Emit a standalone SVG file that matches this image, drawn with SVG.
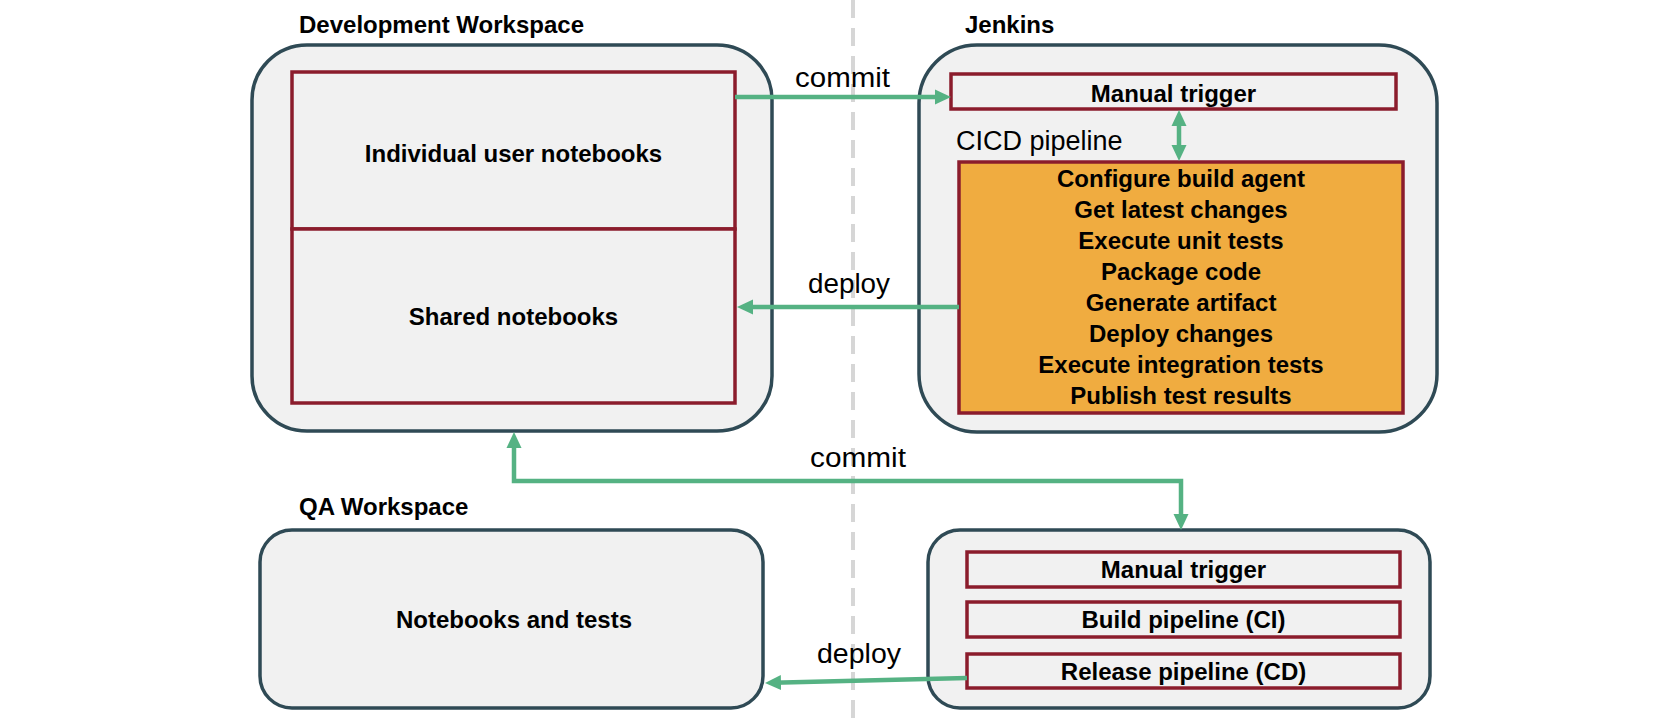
<svg xmlns="http://www.w3.org/2000/svg" width="1680" height="719" viewBox="0 0 1680 719">
<style>
.outer{fill:#f1f1f1;stroke:#2f4a55;stroke-width:3.5}
.inner{fill:#f1f1f1;stroke:#8b1c2c;stroke-width:3.5}
.orange{fill:#f0ac40;stroke:#8b1c2c;stroke-width:3.5}
.title{font-family:"Liberation Sans",Arial,sans-serif;font-weight:bold;font-size:24px;fill:#000}
.bold{font-family:"Liberation Sans",Arial,sans-serif;font-weight:bold;font-size:24px;fill:#000;text-anchor:middle}
.lbl{font-family:"Liberation Sans",Arial,sans-serif;font-size:27px;fill:#000}
.conn{fill:none;stroke:#55b283;stroke-width:4.5}
</style>
<defs>
<marker id="ah" markerUnits="userSpaceOnUse" markerWidth="16" markerHeight="16" viewBox="0 0 16 16" refX="8" refY="8" orient="auto-start-reverse">
<path d="M0,0.5 L16,8 L0,15.5 Z" fill="#55b283"/>
</marker>
</defs>
<line x1="853" y1="0" x2="853" y2="719" stroke="#d6d6d6" stroke-width="4" stroke-dasharray="18 10"/>

<g id="dev-workspace">
<text class="title" x="299" y="33">Development Workspace</text>
<rect class="outer" x="252" y="45" width="520" height="386" rx="55" ry="55"/>
</g>
<g id="individual-notebooks">
<rect class="inner" x="292" y="72" width="443" height="157"/>
<text class="bold" x="513.5" y="162">Individual user notebooks</text>
</g>
<g id="shared-notebooks">
<rect class="inner" x="292" y="229" width="443" height="174"/>
<text class="bold" x="513.5" y="325">Shared notebooks</text>
</g>

<g id="jenkins">
<text class="title" x="965" y="33">Jenkins</text>
<rect class="outer" x="919" y="45" width="518" height="387" rx="58" ry="58"/>
<text class="lbl" x="956" y="150">CICD pipeline</text>
</g>
<g id="manual-trigger">
<rect class="inner" x="951" y="74" width="445" height="35"/>
<text class="bold" x="1173.5" y="102">Manual trigger</text>
</g>
<g id="cicd-pipeline">
<rect class="orange" x="959" y="162" width="444" height="251"/>
<text class="bold" x="1181" y="187">Configure build agent</text>
<text class="bold" x="1181" y="218">Get latest changes</text>
<text class="bold" x="1181" y="249">Execute unit tests</text>
<text class="bold" x="1181" y="280">Package code</text>
<text class="bold" x="1181" y="311">Generate artifact</text>
<text class="bold" x="1181" y="342">Deploy changes</text>
<text class="bold" x="1181" y="373">Execute integration tests</text>
<text class="bold" x="1181" y="404">Publish test results</text>
</g>

<g id="qa-workspace">
<text class="title" x="299" y="515">QA Workspace</text>
<rect class="outer" x="260" y="530" width="503" height="178" rx="32" ry="32"/>
<text class="bold" x="514" y="628">Notebooks and tests</text>
</g>

<g id="qa-jenkins">
<rect class="outer" x="928" y="530" width="502" height="178" rx="32" ry="32"/>
</g>
<g id="qa-manual-trigger">
<rect class="inner" x="967" y="552" width="433" height="35"/>
<text class="bold" x="1183.5" y="578">Manual trigger</text>
</g>
<g id="qa-build-pipeline">
<rect class="inner" x="967" y="602" width="433" height="35"/>
<text class="bold" x="1183.5" y="628">Build pipeline (CI)</text>
</g>
<g id="qa-release-pipeline">
<rect class="inner" x="967" y="654" width="433" height="34"/>
<text class="bold" x="1183.5" y="680">Release pipeline (CD)</text>
</g>

<g id="connectors">
<line class="conn" x1="735" y1="97" x2="943" y2="97" marker-end="url(#ah)"/>
<text class="lbl" x="795" y="87" textLength="95" lengthAdjust="spacingAndGlyphs">commit</text>
<line class="conn" x1="959" y1="307" x2="745" y2="307" marker-end="url(#ah)"/>
<text class="lbl" x="808" y="293" textLength="82" lengthAdjust="spacingAndGlyphs">deploy</text>
<line class="conn" x1="1179" y1="118" x2="1179" y2="153" marker-start="url(#ah)" marker-end="url(#ah)"/>
<polyline class="conn" points="514,440 514,481 1181,481 1181,522" marker-start="url(#ah)" marker-end="url(#ah)"/>
<text class="lbl" x="810" y="467" textLength="96" lengthAdjust="spacingAndGlyphs">commit</text>
<line class="conn" x1="967" y1="678" x2="773" y2="682.8" marker-end="url(#ah)"/>
<text class="lbl" x="817" y="663" textLength="84" lengthAdjust="spacingAndGlyphs">deploy</text>
</g>
</svg>
